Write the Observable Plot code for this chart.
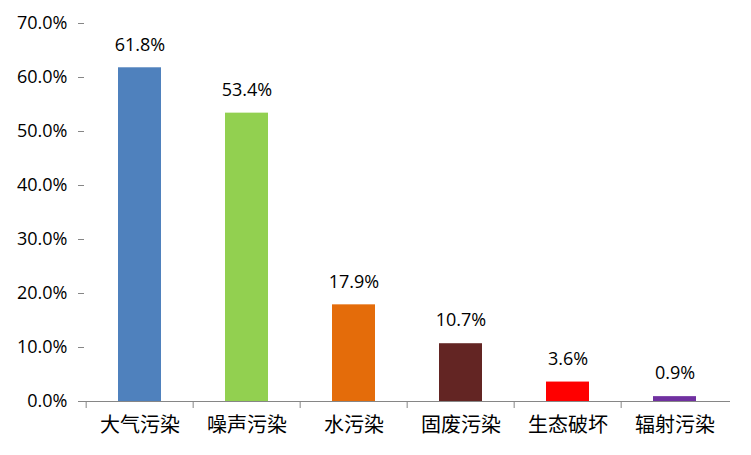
<!DOCTYPE html>
<html>
<head>
<meta charset="utf-8">
<script src="https://cdn.jsdelivr.net/npm/d3@7"></script>
<script src="https://cdn.jsdelivr.net/npm/@observablehq/plot@0.6"></script>
<style>
  html, body { margin: 0; padding: 0; background: #fff; }
</style>
</head>
<body>
<div id="chart"></div>
<script>
const categories = ["大气污染", "噪声污染", "水污染", "固废污染", "生态破坏", "辐射污染"];
const values = [0.618, 0.534, 0.179, 0.107, 0.036, 0.009];
const colors = ["#4F81BD", "#92D050", "#E46C0A", "#632523", "#FF0000", "#7030A0"];
const yTicks = [0, 0.1, 0.2, 0.3, 0.4, 0.5, 0.6, 0.7];

const data = categories.map((c, i) => ({category: c, value: values[i], color: colors[i]}));

const W = 751, H = 455, ML = 84, MR = 21, MT = 23, MB = 54;
const step = (W - ML - MR) / categories.length;
const numFont = "'Open Sans', 'Liberation Sans', sans-serif";

const chart = Plot.plot({
  width: W,
  height: H,
  marginLeft: ML,
  marginRight: MR,
  marginTop: MT,
  marginBottom: MB,
  style: {fontFamily: numFont, fontSize: "18px", color: "#000", background: "#fff"},
  x: {domain: categories, paddingInner: 0.6, paddingOuter: 0.3, axis: null},
  y: {domain: [0, 0.7], axis: null},
  marks: [
    Plot.barY(data, {x: "category", y: "value", fill: "color"}),
    Plot.text(data, {
      x: "category", y: "value", text: d => d3.format(".1%")(d.value),
      lineAnchor: "middle", dy: -23, fontSize: 18, fill: "#000",
      fontFamily: numFont
    }),
    Plot.axisY({
      ticks: yTicks, tickFormat: d3.format(".1%"), tickSize: 6, tickPadding: 11,
      stroke: "#868686", fill: "#000", fontSize: 18, fontFamily: numFont, line: true, label: null
    }),
    Plot.ruleY([0], {stroke: "#868686"}),
    Plot.ruleX(categories, {x: d => d, y1: 0, y2: 0, insetBottom: -7, dx: -step / 2, stroke: "#868686"}),
    Plot.axisX({
      tickSize: 0, tickPadding: 16, fontSize: 20, fill: "#000", label: null,
      fontFamily: "'Noto Sans CJK SC', sans-serif"
    })
  ]
});
document.getElementById("chart").appendChild(chart);
</script>
</body>
</html>
